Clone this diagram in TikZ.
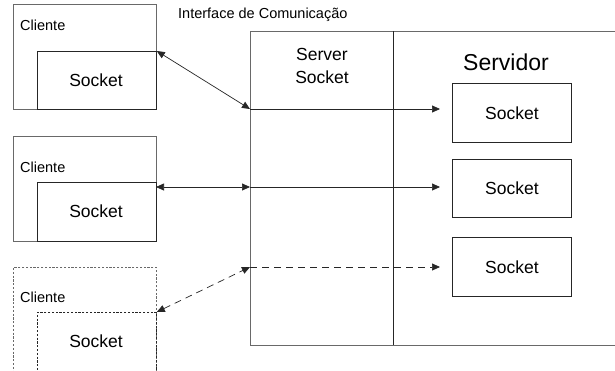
\documentclass[tikz,border=0pt]{standalone}
\usepackage{fontspec}
\setmainfont{Liberation Sans}
\usetikzlibrary{arrows.meta}
\definecolor{edgegray}{RGB}{105,105,105}
\tikzset{
  outerbox/.style={draw=edgegray, line width=0.9pt, anchor=north west, inner sep=0pt},
  sockbox/.style={draw=black!85, line width=0.8pt, anchor=north west, inner sep=0pt, font=\fontsize{17.5}{20}\selectfont},
  dashbox/.style={dash pattern=on 2.2pt off 1.6pt},
  lbl/.style={anchor=west, inner sep=0pt, font=\fontsize{14.5}{16}\selectfont},
  conn/.style={line width=0.7pt, draw=black!85},
  tip/.style={-{Triangle[length=8pt,width=7pt]}},
  dtip/.style={{Triangle[length=8pt,width=7pt]}-{Triangle[length=8pt,width=7pt]}},
  dashconn/.style={dash pattern=on 7pt off 5pt}
}
\begin{document}
\begin{tikzpicture}[x=1pt,y=-1pt]
\useasboundingbox (0,0) rectangle (615,370);
\path[clip] (0,0) rectangle (615,370);
\fill[white] (0,0) rectangle (615,370);

% title
\node[anchor=west, inner sep=0pt, font=\fontsize{14.5}{16}\selectfont] (title) at (178,15) {Interface de Comunicação};

% server box
\node[outerbox, minimum width=400pt, minimum height=314pt] (srv) at (250,31) {};
\coordinate (dtop) at (393,31);
\coordinate (dbot) at (393,345);
\draw[line width=0.9pt, draw=black!85] (dtop) -- (dbot);
\node[align=center, inner sep=0pt, font=\fontsize{17.5}{23}\selectfont] (ss) at (322,66) {Server\\Socket};
\node[inner sep=0pt, font=\fontsize{23}{26}\selectfont] (servidor) at (506,62) {Servidor};

% server sockets
\node[sockbox, minimum width=119pt, minimum height=59pt] (s1) at (452,83) {};
\node[font=\fontsize{17.5}{20}\selectfont, inner sep=0pt] at (s1.center) {Socket};
\node[sockbox, minimum width=119pt, minimum height=58pt] (s2) at (452,159) {};
\node[font=\fontsize{17.5}{20}\selectfont, inner sep=0pt] at (s2.center) {Socket};
\node[sockbox, minimum width=119pt, minimum height=59pt] (s3) at (452,237) {};
\node[font=\fontsize{17.5}{20}\selectfont, inner sep=0pt] at (s3.center) {Socket};

% client 1
\node[outerbox, minimum width=143pt, minimum height=105pt] (c1) at (13,4) {};
\node[sockbox, minimum width=119pt, minimum height=58pt] (c1s) at (37,51) {};
\node[font=\fontsize{17.5}{20}\selectfont, inner sep=0pt] at (96,80) {Socket};
\node[lbl] (c1l) at (c1.north west) [xshift=7pt, yshift=-21pt] {Cliente};

% client 2
\node[outerbox, minimum width=143pt, minimum height=105pt] (c2) at (13,136) {};
\node[sockbox, minimum width=119pt, minimum height=59pt] (c2s) at (37,182) {};
\node[font=\fontsize{17.5}{20}\selectfont, inner sep=0pt] at (96,211) {Socket};
\node[lbl] (c2l) at (c2.north west) [xshift=7pt, yshift=-31pt] {Cliente};

% client 3 (dashed)
\node[outerbox, dashbox, minimum width=143pt, minimum height=120pt] (c3) at (13,267) {};
\node[sockbox, dashbox, minimum width=119pt, minimum height=75pt] (c3s) at (37,312) {};
\node[font=\fontsize{17.5}{20}\selectfont, inner sep=0pt] at (96,341) {Socket};
\node[lbl] (c3l) at (c3.north west) [xshift=7pt, yshift=-30pt] {Cliente};

% connectors
\coordinate (p1) at (250,109);
\coordinate (p2) at (250,187);
\coordinate (p3) at (250,267);
\coordinate (q2) at (156,187);

\draw[conn, dtip] (c1s.north east) -- (p1);
\draw[conn, dtip] (q2) -- (p2);
\draw[conn, dtip, dashconn] (c3s.north east) -- (p3);

\draw[conn, tip, shorten >=12pt] (p1) -- (s1.west |- p1);
\draw[conn, tip, shorten >=12pt] (p2) -- (s2.west |- p2);
\draw[conn, tip, dashconn, shorten >=12pt] (p3) -- (s3.west |- p3);
\end{tikzpicture}
\end{document}
